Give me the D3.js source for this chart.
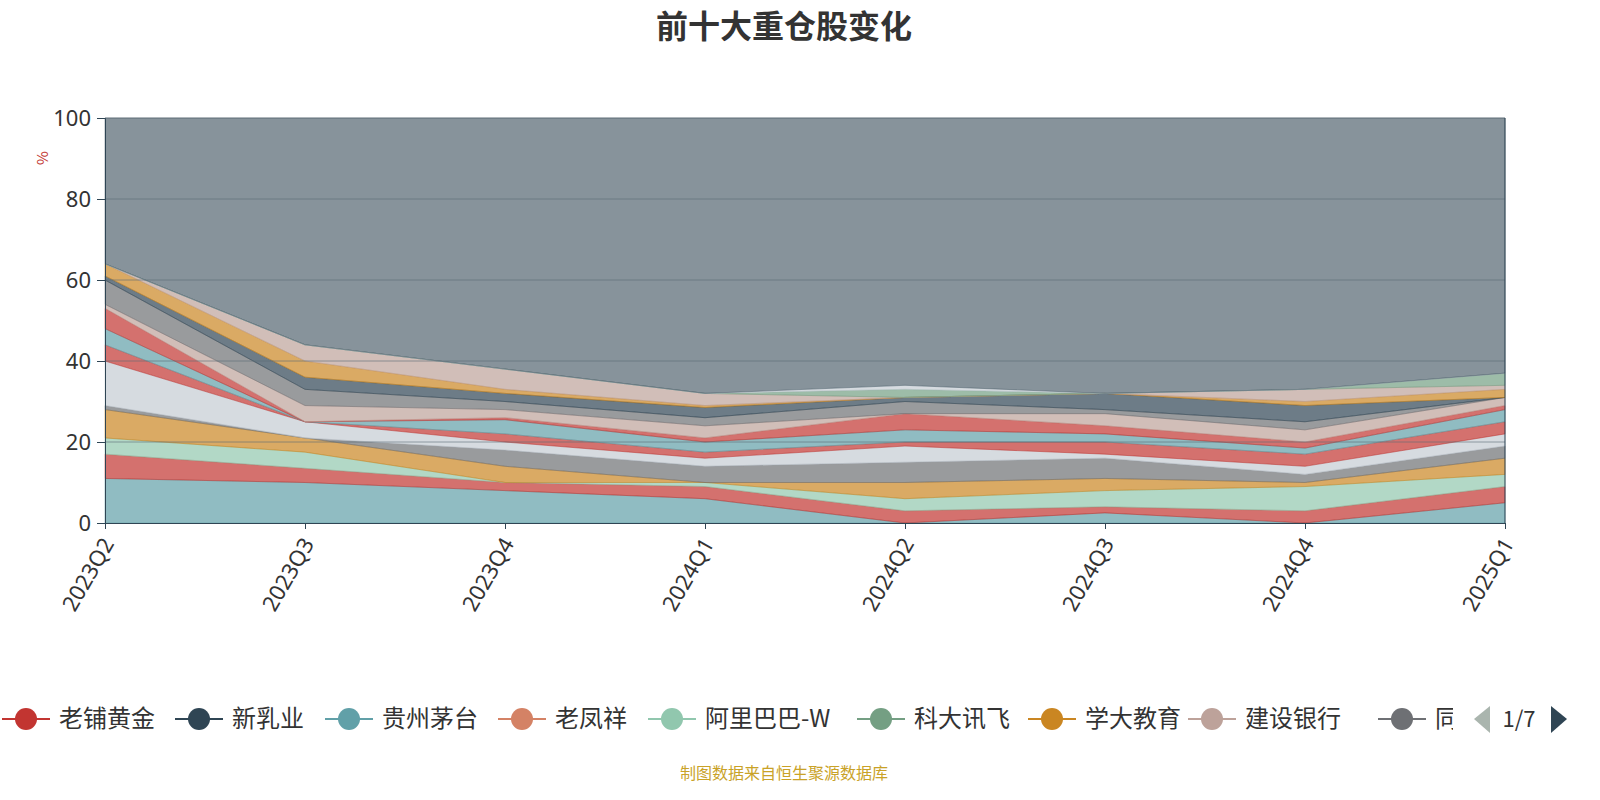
<!DOCTYPE html><html><head><meta charset="utf-8"><script src="https://cdn.jsdelivr.net/npm/d3@7"></script>
<style>body{margin:0;background:#fff;font-family:"Noto Sans CJK SC","Noto Sans",sans-serif}</style></head><body><svg id="c" width="1600" height="800"></svg>
<script>
const quarters=["2023Q2","2023Q3","2023Q4","2024Q1","2024Q2","2024Q3","2024Q4","2025Q1"];
const yTicks=[0,20,40,60,80,100];
const legendNames=["老铺黄金","新乳业","贵州茅台","老凤祥","阿里巴巴-W","科大讯飞","学大教育","建设银行","同"];
const palette=['#c23531','#2f4554','#61a0a8','#d48265','#91c7ae','#749f83','#ca8622','#bda29a','#6e7074','#546570','#c4ccd3'];
const seriesNames=["S1","S2","S3","S4","S5","S6","S7","S8","S9","S10","S11","S12","S13","S14","S15","S16","其他"];
const seriesColors=['#61a0a8','#c23531','#91c7ae','#ca8622','#6e7074','#c4ccd3','#c23531','#61a0a8','#c23531','#bda29a','#6e7074','#2f4554','#ca8622','#bda29a','#749f83','#c4ccd3','#546570'];
const s1=[11,10,8,6,0,2.5,0,5];
const s2=[6,3.5,2,3,3,1.5,3,4];
const s3=[4,4,0,1,3,4,6,3];
const s4=[7,3.5,4,0,4,3,1,4];
const s5=[1,0,4,4,5,5,2,3];
const s6=[11,4,2,2,4,1,2,3];
const s7=[4,0,2,1.5,1,3,3,3];
const s8=[4,0,3.5,2.5,3,2,1.5,3];
const s9=[5,0,0.5,1,4,2,1.5,1];
const s10=[1,4,2,3,0,3,3,2];
const s11=[6,4,2,2,3,1,2,0];
const s12=[1,3,2,2.5,1,4,4,0];
const s13=[3,4,1,0.5,0,0,1,2];
const s14=[0,4,5,3,0,0,3,1];
const s15=[0,0,0,0,2,0,0,3];
const s16=[0,0,0,0,1,0,0,0];
const s17=[36,56,62,68,66,68,67,63];
const allSeries=[s1,s2,s3,s4,s5,s6,s7,s8,s9,s10,s11,s12,s13,s14,s15,s16,s17];

const svg=d3.select("#c");
const L=105,R=1505,T=118,B=523;
const x=d3.scalePoint().domain(quarters).range([L,R]);
const y=d3.scaleLinear().domain([0,100]).range([B,T]);
const rows=quarters.map((q,i)=>{const o={q};allSeries.forEach((s,j)=>o[j]=s[i]);return o;});
const stack=d3.stack().keys(allSeries.map((_,j)=>j))(rows);
const area=d3.area().x(d=>x(d.data.q)).y0(d=>y(d[0])).y1(d=>y(d[1]));
svg.append("g").selectAll("path").data(stack).join("path").attr("d",area)
 .attr("fill",(d,i)=>seriesColors[i]).attr("fill-opacity",0.7)
 .attr("stroke",(d,i)=>seriesColors[i]).attr("stroke-opacity",0.5).attr("stroke-width",1);
svg.append("g").selectAll("line").data(yTicks.slice(1)).join("line")
 .attr("x1",L).attr("x2",R).attr("y1",d=>y(d)).attr("y2",d=>y(d)).attr("stroke","#5a6b75").attr("stroke-opacity",0.6);
const ya=svg.append("g").attr("transform",`translate(${L},0)`).call(d3.axisLeft(y).tickValues(yTicks).tickSize(8).tickPadding(6));
ya.selectAll("text").attr("font-size",22).attr("fill","#333").attr("font-family","Noto Sans");
ya.selectAll("line,path").attr("stroke","#2f4554");
const xa=svg.append("g").attr("transform",`translate(0,${B})`).call(d3.axisBottom(x).tickSize(6).tickPadding(8));
xa.selectAll("line,path").attr("stroke","#2f4554");
xa.selectAll("text").attr("font-size",22).attr("fill","#333").attr("font-family","Noto Sans")
 .attr("text-anchor","end").attr("transform","rotate(-60)").attr("dx","-0.6em").attr("dy","0.2em");
svg.append("line").attr("x1",R).attr("x2",R).attr("y1",T).attr("y2",B).attr("stroke","#2f4554");
svg.append("text").attr("transform","translate(48,158) rotate(-90)").attr("text-anchor","middle").attr("fill","#c23531").attr("font-size",15).text("%");
svg.append("text").attr("x",784).attr("y",38).attr("text-anchor","middle").attr("font-size",32).attr("font-weight","bold").attr("fill","#333").text("前十大重仓股变化");
const lx=[2,175,325,498,648,857,1028,1188,1378];
const lg=svg.append("g");
legendNames.forEach((n,i)=>{
 const g=lg.append("g").attr("transform",`translate(${lx[i]},719)`);
 g.append("line").attr("x1",0).attr("x2",48).attr("stroke",palette[i]).attr("stroke-width",2);
 g.append("circle").attr("cx",24).attr("r",11).attr("fill",palette[i]);
 g.append("text").attr("x",57).attr("y",8).attr("font-size",24).attr("fill","#333").text(n);
});
svg.append("rect").attr("x",1453).attr("y",700).attr("width",20).attr("height",40).attr("fill","#fff");
svg.append("path").attr("d","M1490,706 L1474,719 L1490,733 Z").attr("fill","#aab5ae");
svg.append("text").attr("x",1519).attr("y",727).attr("text-anchor","middle").attr("font-size",22).attr("fill","#333").text("1/7");
svg.append("path").attr("d","M1551,706 L1567,719 L1551,733 Z").attr("fill","#2f4554");
svg.append("text").attr("x",784).attr("y",779).attr("text-anchor","middle").attr("font-size",16).attr("fill","#c9a227").text("制图数据来自恒生聚源数据库");
</script></body></html>
